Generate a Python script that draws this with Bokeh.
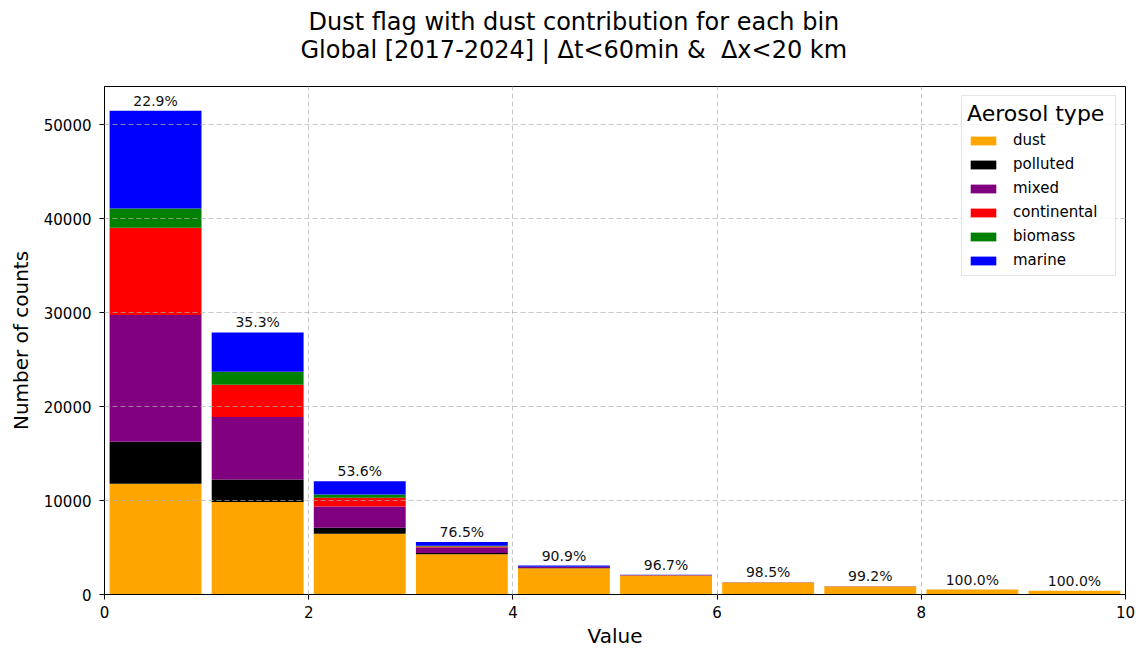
from bokeh.plotting import figure
from bokeh.models import ColumnDataSource, Title, FixedTicker, Range1d, Legend
from bokeh.core.properties import value
from bokeh.embed import file_html
from bokeh.resources import INLINE

# ---- data ----
bins = [0.5, 1.5, 2.5, 3.5, 4.5, 5.5, 6.5, 7.5, 8.5, 9.5]
dust =        [11800, 9850, 6460, 4285, 2800, 2030, 1280, 863, 520, 400]
polluted =    [4450, 2400, 650, 120, 20, 5, 2, 0, 0, 0]
mixed =       [13500, 6650, 2270, 600, 110, 35, 10, 4, 0, 0]
continental = [9300, 3440, 920, 100, 10, 5, 2, 0, 0, 0]
biomass =     [2050, 1380, 350, 80, 5, 5, 1, 0, 0, 0]
marine =      [10400, 4180, 1400, 415, 135, 20, 5, 3, 0, 0]

types = ["dust", "polluted", "mixed", "continental", "biomass", "marine"]
colors = ["orange", "black", "purple", "red", "green", "blue"]
x_ticks = [0, 2, 4, 6, 8, 10]
y_ticks = [0, 10000, 20000, 30000, 40000, 50000]
title1 = "Dust flag with dust contribution for each bin"
title2 = "Global [2017-2024] | \u0394t<60min &\u00a0 \u0394x<20 km"

series = [dust, polluted, mixed, continental, biomass, marine]
totals = [sum(v) for v in zip(*series)]
pct = ["%.1f%%" % (100.0 * d / t) for d, t in zip(dust, totals)]

data = {"x": bins, "total": totals, "pct": pct}
for name, vals in zip(types, series):
    data[name] = vals
src = ColumnDataSource(data)

FONT = "DejaVu Sans"

p = figure(width=1136, height=650, output_backend="svg", toolbar_location=None,
           title=None, x_range=Range1d(0, 10), y_range=Range1d(0, max(totals) * 1.05),
           min_border_left=104, min_border_right=11, min_border_top=86, min_border_bottom=54)

# spacer between frame and the title lines
p.add_layout(Title(text=" ", text_font_size="1px", standoff=18), "above")
p.add_layout(Title(text=title2, align="left", offset=196, vertical_align="top",
                   text_font=FONT, text_font_size="24px", text_font_style="normal",
                   text_color="black", standoff=0), "above")
p.add_layout(Title(text=title1, align="left", offset=204, vertical_align="bottom",
                   text_font=FONT, text_font_size="24px", text_font_style="normal",
                   text_color="black", standoff=0), "above")

renderers = p.vbar_stack(types, x="x", width=0.9, color=colors, line_color=None, source=src)

p.text(x="x", y="total", text="pct", source=src, text_align="center", text_baseline="bottom",
       y_offset=-2, text_font=value(FONT), text_font_size="14px", text_color="#111111")

legend = Legend(items=[(n, [r]) for n, r in zip(types, renderers)], location="top_right")
legend.title = "Aerosol type"
legend.title_text_font = FONT
legend.title_text_font_size = "22px"
legend.title_text_font_style = "normal"
legend.title_text_color = "black"
legend.title_standoff = 4
legend.label_text_font = FONT
legend.label_text_font_size = "15px"
legend.label_text_color = "black"
legend.glyph_width = 32
legend.glyph_height = 11
legend.label_height = 20
legend.label_width = 97
legend.label_standoff = 14
legend.spacing = 4
legend.padding = 5
legend.margin = 9
legend.border_line_color = "#cccccc"
legend.border_line_width = 1
legend.background_fill_alpha = 0.85
p.add_layout(legend)

p.xaxis.ticker = FixedTicker(ticks=x_ticks)
p.yaxis.ticker = FixedTicker(ticks=y_ticks)
p.xaxis.axis_label = "Value"
p.yaxis.axis_label = "Number of counts"
for ax in (p.xaxis, p.yaxis):
    ax.axis_label_text_font = FONT
    ax.axis_label_text_font_size = "20px"
    ax.axis_label_text_font_style = "normal"
    ax.axis_label_text_color = "black"
    ax.major_label_text_font = FONT
    ax.major_label_text_font_size = "15px"
    ax.major_label_text_color = "black"
    ax.axis_line_color = "black"
    ax.major_tick_line_color = "black"
    ax.major_tick_out = 5
    ax.major_tick_in = 0
    ax.minor_tick_line_color = None
p.xaxis.major_label_standoff = 6
p.xaxis.axis_label_standoff = 3
p.yaxis.major_label_standoff = 8
p.yaxis.axis_label_standoff = 8

p.outline_line_color = "black"
p.outline_line_width = 1
for g in (p.xgrid, p.ygrid):
    g.grid_line_color = "#b0b0b0"
    g.grid_line_alpha = 0.7
    g.grid_line_dash = "5 3"
    g.level = "guide"

open("out.html", "w").write(file_html(p, INLINE))
